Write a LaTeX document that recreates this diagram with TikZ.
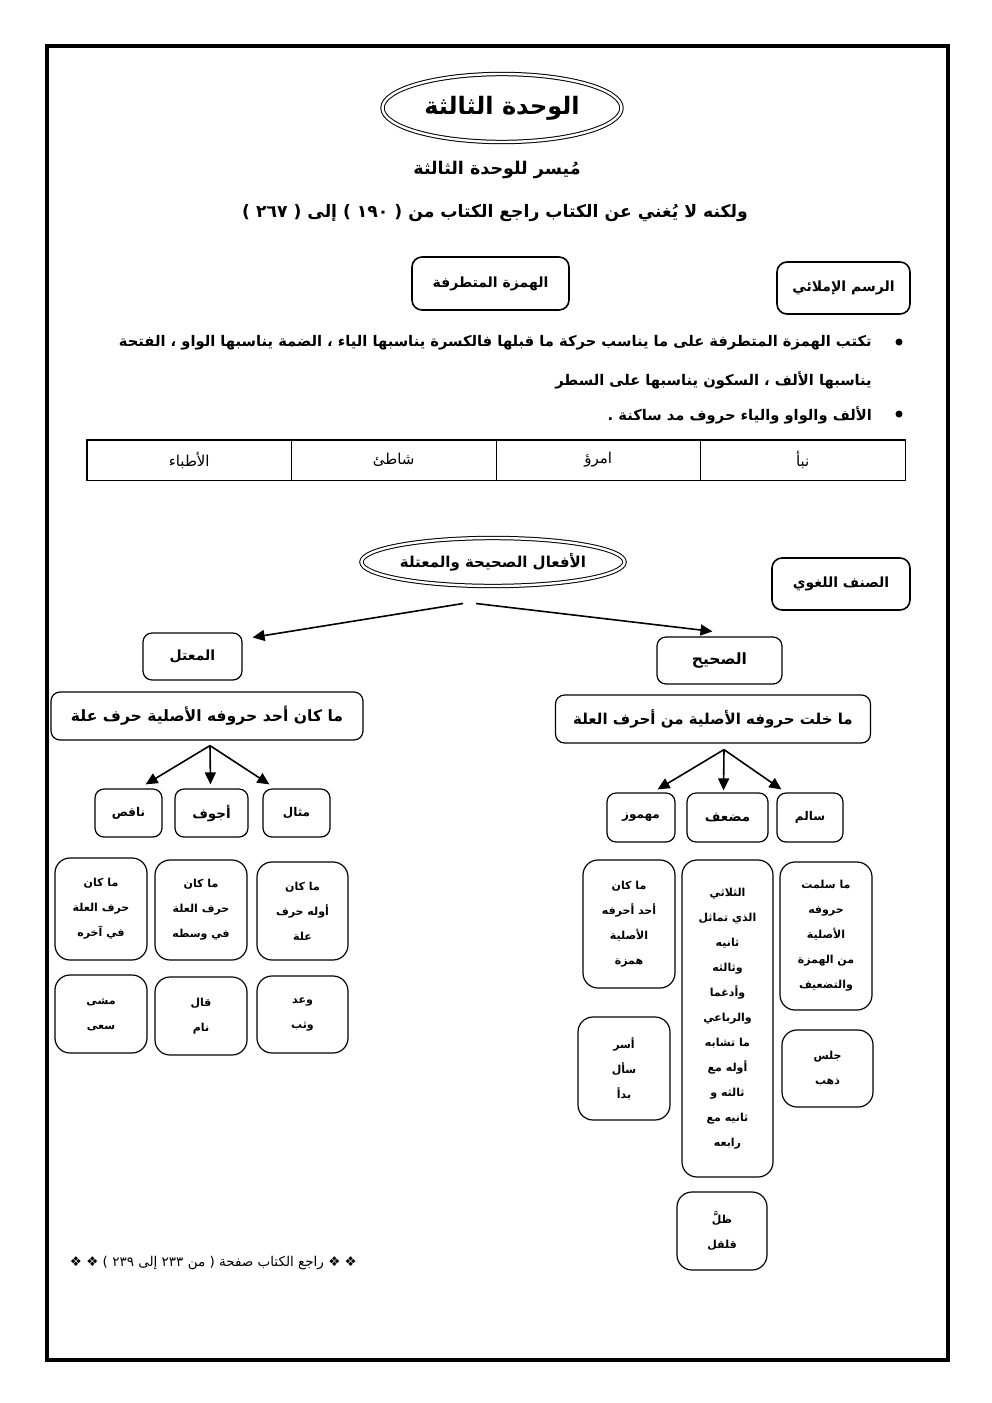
\documentclass[tikz,border=0pt]{standalone}
\usepackage{fontspec}
\usetikzlibrary{shapes.geometric,arrows.meta}
\newfontfamily\arabicfont[Script=Arabic]{DejaVu Sans}
\TeXXeTstate=1
\newcommand{\artxt}[1]{\beginR #1\endR}

\tikzset{
  ttl/.style={ellipse, draw, double, double distance=2.4pt, line width=1pt, inner sep=0pt},
  rbox/.style={draw, rounded corners=9pt, line width=1.2pt, inner sep=0pt, align=center},
  hbox/.style={rbox, line width=1.6pt, rounded corners=10pt, font=\arabicfont\bfseries\fontsize{14}{16}\selectfont},
  catbox/.style={rbox, font=\arabicfont\bfseries\fontsize{12}{14}\selectfont},
  defbox/.style={rbox, rounded corners=15pt, font=\arabicfont\bfseries\fontsize{11}{25}\selectfont},
  cell/.style={draw, line width=1pt, inner sep=0pt, minimum width=204.5, minimum height=40, font=\arabicfont\fontsize{15}{17}\selectfont},
  txt/.style={anchor=east, inner sep=0pt, font=\arabicfont\bfseries\fontsize{14.7}{17}\selectfont},
  arr/.style={-{Triangle[length=12pt,width=11pt]}, line width=1.6pt},
}

\begin{document}
\begin{tikzpicture}[x=1pt, y=-1pt, every node/.style={font=\arabicfont}]
  \useasboundingbox (0,0) rectangle (992,1403);
  \draw[line width=3.5pt] (47,46) rectangle (948,1360);

  % header
  \node[ttl, minimum width=239, minimum height=68, font=\arabicfont\bfseries\fontsize{24}{28}\selectfont] (title) at (502,108) {\artxt{الوحدة الثالثة}};
  \node[font=\arabicfont\bfseries\fontsize{17.5}{20}\selectfont] (sub1) at (497,170) {\artxt{مُيسر للوحدة الثالثة}};
  \node[font=\arabicfont\bfseries\fontsize{17.2}{20}\selectfont] (sub2) at (495,213) {\artxt{ولكنه لا يُغني عن الكتاب راجع الكتاب من ( ١٩٠ ) إلى ( ٢٦٧ )}};

  \node[hbox, minimum width=157, minimum height=53] (hamza) at (490.5,283.5) {\artxt{الهمزة المتطرفة}};
  \node[hbox, minimum width=133, minimum height=52] (rasm) at (843.5,288) {\artxt{الرسم الإملائي}};

  % bullets
  \fill (899,342) circle (3.5);
  \node[txt] (line1) at (872,343) {\artxt{تكتب الهمزة المتطرفة على ما يناسب حركة ما قبلها فالكسرة يناسبها الياء ، الضمة يناسبها الواو ، الفتحة}};
  \node[txt] (line2) at (872,380) {\artxt{يناسبها الألف ، السكون يناسبها على السطر}};
  \fill (899,414) circle (3.5);
  \node[txt] (line3) at (872,415) {\artxt{الألف والواو والياء حروف مد ساكنة .}};

  % table
  \foreach \w [count=\i] in {الأطباء,شاطئ,امرؤ,نبأ}
    \node[cell] (cell\i) at ({87+204.5*(\i-0.5)},460) {\artxt{\w}};
  \draw[line width=1.6pt] (cell1.north west) rectangle (cell4.south east);

  % tree
  \node[ttl, minimum width=262, minimum height=48, font=\arabicfont\bfseries\fontsize{15}{17}\selectfont] (afal) at (493,562) {\artxt{الأفعال الصحيحة والمعتلة}};
  \node[hbox, minimum width=138, minimum height=52] (sinf) at (841,584) {\artxt{الصنف اللغوي}};

  \node[rbox, minimum width=99, minimum height=47, font=\arabicfont\bfseries\fontsize{14}{16}\selectfont] (mutal) at (192.5,656.5) {\artxt{المعتل}};
  \node[rbox, minimum width=125, minimum height=47, font=\arabicfont\bfseries\fontsize{15.5}{17}\selectfont] (sahih) at (719.5,660.5) {\artxt{الصحيح}};
  \coordinate (fork-l) at ([shift={(-30,17)}]afal.south);
  \coordinate (fork-r) at ([shift={(-17,17)}]afal.south);
  \draw[arr] (fork-l) -- ([shift={(10,5)}]mutal.north east);
  \draw[arr] (fork-r) -- ([shift={(-7,-5)}]sahih.north);

  \node[rbox, minimum width=312, minimum height=48, font=\arabicfont\bfseries\fontsize{15.6}{17}\selectfont] (mutaldef) at (207,716) {\artxt{ما كان أحد حروفه الأصلية حرف علة}};
  \node[rbox, minimum width=315, minimum height=48, font=\arabicfont\bfseries\fontsize{15}{17}\selectfont] (sahihdef) at (713,719) {\artxt{ما خلت حروفه الأصلية من أحرف العلة}};

  % left branch
  \node[catbox, minimum width=67, minimum height=48] (naqis) at (128.5,813) {\artxt{ناقص}};
  \node[catbox, minimum width=73, minimum height=48, font=\arabicfont\bfseries\fontsize{13.5}{15}\selectfont] (ajwaf) at (211.5,813) {\artxt{أجوف}};
  \node[catbox, minimum width=67, minimum height=48] (mithal) at (296.5,813) {\artxt{مثال}};
  \coordinate (lfork) at ([shift={(3,5)}]mutaldef.south);
  \draw[arr] (lfork) -- ([shift={(-17,-4)}]naqis.north east);
  \draw[arr] (lfork) -- ([shift={(-1,-4)}]ajwaf.north);
  \draw[arr] (lfork) -- ([shift={(7,-4)}]mithal.north west);

  \node[defbox, minimum width=92, minimum height=102] (naqisd) at (101,909) {\artxt{ما كان}\\\artxt{حرف العلة}\\\artxt{في آخره}};
  \node[defbox, minimum width=92, minimum height=100] (ajwafd) at (201,910) {\artxt{ما كان}\\\artxt{حرف العلة}\\\artxt{في وسطه}};
  \node[defbox, minimum width=91, minimum height=98] (mithald) at (302.5,911) {\artxt{ما كان}\\\artxt{أوله حرف}\\\artxt{علة}};
  \node[defbox, minimum width=92, minimum height=78] (naqise) at (101,1014) {\artxt{مشى}\\\artxt{سعى}};
  \node[defbox, minimum width=92, minimum height=78] (ajwafe) at (201,1016) {\artxt{قال}\\\artxt{نام}};
  \node[defbox, minimum width=91, minimum height=77] (mithale) at (302.5,1014.5) {\artxt{وعد}\\\artxt{وثب}};

  % right branch
  \node[catbox, minimum width=68, minimum height=49] (mahmuz) at (641,817.5) {\artxt{مهموز}};
  \node[catbox, minimum width=81, minimum height=49, font=\arabicfont\bfseries\fontsize{13.5}{15}\selectfont] (mudaaf) at (727.5,817.5) {\artxt{مضعف}};
  \node[catbox, minimum width=66, minimum height=49] (salim) at (810,817.5) {\artxt{سالم}};
  \coordinate (rfork) at ([shift={(11,6)}]sahihdef.south);
  \draw[arr] (rfork) -- ([shift={(-18,-3)}]mahmuz.north east);
  \draw[arr] (rfork) -- ([shift={(-4,-2)}]mudaaf.north);
  \draw[arr] (rfork) -- ([shift={(5,-3)}]salim.north west);

  \node[defbox, minimum width=92, minimum height=128] (mahmuzd) at (629,924) {\artxt{ما كان}\\\artxt{أحد أحرفه}\\\artxt{الأصلية}\\\artxt{همزة}};
  \node[defbox, minimum width=91, minimum height=317] (mudaafd) at (727.5,1018.5) {\artxt{الثلاثي}\\\artxt{الذي تماثل}\\\artxt{ثانيه}\\\artxt{وثالثه}\\\artxt{وأدغما}\\\artxt{والرباعي}\\\artxt{ما تشابه}\\\artxt{أوله مع}\\\artxt{ثالثه و}\\\artxt{ثانيه مع}\\\artxt{رابعه}};
  \node[defbox, minimum width=92, minimum height=148] (salimd) at (826,936) {\artxt{ما سلمت}\\\artxt{حروفه}\\\artxt{الأصلية}\\\artxt{من الهمزة}\\\artxt{والتضعيف}};
  \node[defbox, minimum width=92, minimum height=103] (mahmuze) at (624,1068.5) {\artxt{أسر}\\\artxt{سأل}\\\artxt{بدأ}};
  \node[defbox, minimum width=91, minimum height=77] (salime) at (827.5,1068.5) {\artxt{جلس}\\\artxt{ذهب}};
  \node[defbox, minimum width=90, minimum height=78] (mudaafe) at (722,1231) {\artxt{ظلَّ}\\\artxt{قلقل}};

  % footer
  \node[anchor=east, inner sep=0pt, font=\arabicfont\fontsize{13.5}{15}\selectfont] (foot) at (357,1263) {\artxt{❖ ❖ راجع الكتاب صفحة ( من ٢٣٣ إلى ٢٣٩ ) ❖ ❖}};
\end{tikzpicture}
\end{document}
